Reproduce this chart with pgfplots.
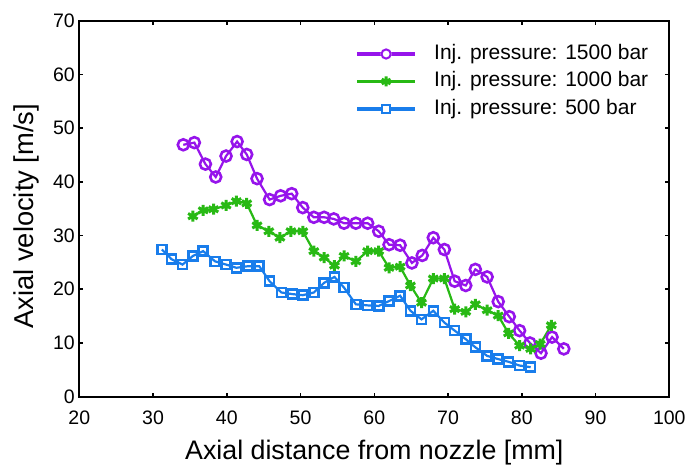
\documentclass[border=0pt]{standalone}
\usepackage{fontspec}
\setmainfont{Liberation Sans}
\usepackage{pgfplots}
\pgfplotsset{compat=1.18}
\definecolor{cpur}{RGB}{150,20,235}
\definecolor{cgrn}{RGB}{40,185,20}
\definecolor{cblu}{RGB}{25,125,235}
\begin{document}
\begin{tikzpicture}
\useasboundingbox (-79.3bp,-68bp) rectangle (609.7bp,396.7bp);
\begin{axis}[
  at={(0,0)}, anchor=south west,
  scale only axis, width=590bp, height=376bp,
  xmin=20, xmax=100, ymin=0, ymax=70,
  xtick={20,30,...,100}, ytick={0,10,...,70},
  tick align=inside, major tick length=4bp,
  every tick/.style={black, line width=1.6bp},
  axis line style={line width=2.2bp},
  /pgf/number format/assume math mode=true,
  tick label style={font=\fontsize{19.5bp}{23bp}\selectfont},
  xticklabel style={anchor=base, yshift=-28bp},
  yticklabel style={xshift=-1bp},
  xlabel={Axial distance from nozzle [mm]},
  ylabel={Axial velocity [m/s]},
  xlabel style={font=\fontsize{26.8bp}{30bp}\selectfont, at={(axis description cs:0.5,-0.1676)}, anchor=base},
  ylabel style={font=\fontsize{27.3bp}{30bp}\selectfont, at={(axis description cs:-0.078,0.48)}, anchor=base},
  legend style={at={(axis description cs:0.4707,0.9367)}, anchor=north west,
    draw=none, fill=none, inner sep=0pt, outer sep=0pt,
    font=\fontsize{21bp}{25bp}\selectfont,
    nodes={inner sep=0pt, text height=15bp, text depth=4bp},
    row sep=8.5bp, column sep=19bp},
  legend cell align=left,
]
\addplot[cpur, line width=2.2bp, mark=o, mark size=5.5bp, mark options={line width=2.6bp, solid},
  legend image code/.code={%
    \fill[cpur] (0bp,-0.8bp) rectangle (56bp,0.8bp);
    \fill[white] (28bp,0bp) circle (4.6bp);
    \draw[cpur, line width=2bp] (28bp,0bp) circle (4.6bp);}] coordinates {
(34.1,46.9) (35.6,47.3) (37.1,43.3) (38.5,40.9) (39.9,44.8) (41.4,47.5) (42.7,45.1) (44.1,40.6)
(45.8,36.7) (47.3,37.4) (48.8,37.8) (50.3,35.2) (51.8,33.4) (53.2,33.4) (54.5,33.1) (55.9,32.3)
(57.5,32.3) (59.1,32.3) (60.6,30.8) (62.0,28.3) (63.5,28.2) (65.1,24.9) (66.5,26.3) (68.0,29.6)
(69.5,27.4) (70.9,21.5) (72.4,20.7) (73.7,23.7) (75.3,22.3) (76.8,17.7) (78.3,14.9) (79.7,12.3)
(81.1,10.0) (82.6,8.1) (84.1,11.1) (85.7,8.9)};
\addlegendentry{Inj. pressure: 1500 bar}
\addplot[cgrn, line width=2.2bp, mark=asterisk, mark size=5.5bp, mark options={line width=3bp, solid},
  legend image code/.code={%
    \fill[cgrn] (0bp,-0.8bp) rectangle (56bp,0.8bp);
    \draw[cgrn, line width=2.8bp] (28bp,-5bp) -- (28bp,5bp)
      (23.67bp,-2.5bp) -- (32.33bp,2.5bp) (23.67bp,2.5bp) -- (32.33bp,-2.5bp);}] coordinates {
(35.4,33.6) (36.8,34.7) (38.2,34.9) (39.9,35.6) (41.3,36.4) (42.7,36.0) (44.1,31.9) (45.7,30.8)
(47.2,29.6) (48.7,30.8) (50.3,30.8) (51.8,27.1) (53.2,25.9) (54.6,24.4) (55.9,26.2) (57.5,25.2)
(59.1,27.1) (60.6,27.1) (62.0,24.0) (63.5,24.2) (64.9,20.7) (66.4,17.5) (68.0,22.0) (69.5,22.0)
(70.9,16.3) (72.4,15.8) (73.7,17.2) (75.3,16.1) (76.8,15.1) (78.2,11.8) (79.7,9.5) (81.2,8.9)
(82.5,9.8) (84.0,13.3)};
\addlegendentry{Inj. pressure: 1000 bar}
\addplot[cblu, line width=2.2bp, mark=square, mark size=4.5bp, mark options={line width=2.6bp, solid},
  legend image code/.code={%
    \fill[cblu] (0bp,-0.8bp) rectangle (56bp,0.8bp);
    \fill[white] (24bp,-4bp) rectangle (32bp,4bp);
    \draw[cblu, line width=2bp] (24bp,-4bp) rectangle (32bp,4bp);}] coordinates {
(31.2,27.4) (32.5,25.6) (34.0,24.6) (35.4,26.2) (36.8,27.1) (38.4,25.2) (39.9,24.6) (41.3,24.0)
(42.9,24.3) (44.4,24.3) (45.8,21.5) (47.4,19.4) (48.9,19.1) (50.3,18.9) (51.8,19.4) (53.2,21.2)
(54.6,22.3) (55.9,20.3) (57.5,17.2) (59.1,17.0) (60.6,16.9) (62.0,17.8) (63.5,18.8) (64.9,16.0)
(66.4,14.4) (68.0,16.0) (69.5,13.8) (70.9,12.3) (72.4,10.7) (73.7,9.2) (75.3,7.6) (76.8,7.0)
(78.2,6.5) (79.7,5.8) (81.2,5.5)};
\addlegendentry{Inj. pressure: 500 bar}
\end{axis}
\end{tikzpicture}
\end{document}
